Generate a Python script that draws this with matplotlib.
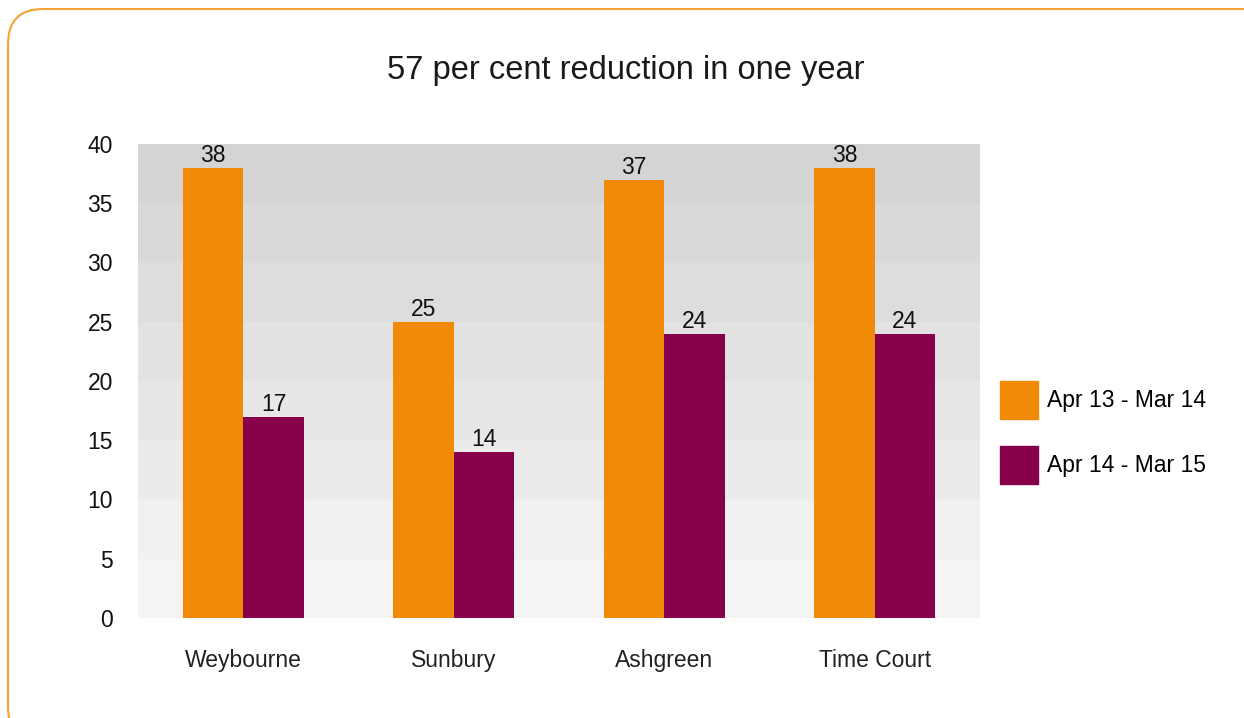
import matplotlib.pyplot as plt
import numpy as np
from matplotlib.patches import FancyBboxPatch, Patch

plt.rcParams['font.family'] = ['Liberation Sans', 'DejaVu Sans']

sites = ['Weybourne', 'Sunbury', 'Ashgreen', 'Time Court']
year1 = [38, 25, 37, 38]
year2 = [17, 14, 24, 24]
series = ['Apr 13 - Mar 14', 'Apr 14 - Mar 15']
orange = '#F18A06'
plum = '#87004A'

W, H = 1244, 718
fig = plt.figure(figsize=(W / 100, H / 100), dpi=100)

# background axes in pixel units, used only for the rounded frame
bg = fig.add_axes([0, 0, 1, 1], zorder=-1)
bg.set_xlim(0, W)
bg.set_ylim(0, H)
bg.axis('off')
bg.add_patch(FancyBboxPatch((8, -24), 1276, H - 9 + 24, boxstyle='round,pad=0,rounding_size=35',
                            fill=False, edgecolor='#F5A338', linewidth=1.5))

ax = fig.add_axes([138 / W, 1 - 618 / H, (980 - 138) / W, (618 - 144) / H])

# grey bands, darker toward the top
bands = ['#f4f4f4', '#f0f0f0', '#ebebeb', '#e7e7e7', '#e2e2e2', '#dddddd', '#d9d9d9', '#d4d4d4']
for i, c in enumerate(bands):
    ax.axhspan(i * 5, i * 5 + 5, color=c, zorder=0, lw=0)

x = np.arange(len(sites))
w = 0.287
b1 = ax.bar(x - w / 2, year1, w, color=orange, zorder=2, label=series[0])
b2 = ax.bar(x + w / 2, year2, w, color=plum, zorder=2, label=series[1])
ax.bar_label(b1, padding=0.5, fontsize=16.5, color='#111111')
ax.bar_label(b2, padding=0.5, fontsize=16.5, color='#111111')

ax.set_xlim(-0.5, 3.5)
ax.set_ylim(0, 40)
ax.set_yticks(range(0, 41, 5))
ax.set_xticks(x)
ax.set_xticklabels(sites)
ax.tick_params(axis='y', length=0, pad=18, labelsize=16.5, labelcolor='#111111')
ax.tick_params(axis='x', length=0, pad=22, labelsize=16.5, labelcolor='#222222')
for s in ax.spines.values():
    s.set_visible(False)

fig.text(626 / W, 1 - 71 / H, '57 per cent reduction in one year',
         ha='center', va='center', fontsize=23.5, color='#1a1a1a')

handles = [Patch(color=orange), Patch(color=plum)]
fig.legend(handles, series, loc='upper left', bbox_to_anchor=(1000 / W, 1 - 381 / H),
           frameon=False, fontsize=16.5, handlelength=1.66, handleheight=2.18,
           labelspacing=1.18, handletextpad=0.4, borderpad=0, borderaxespad=0)

fig.savefig('out.png', dpi=100)
